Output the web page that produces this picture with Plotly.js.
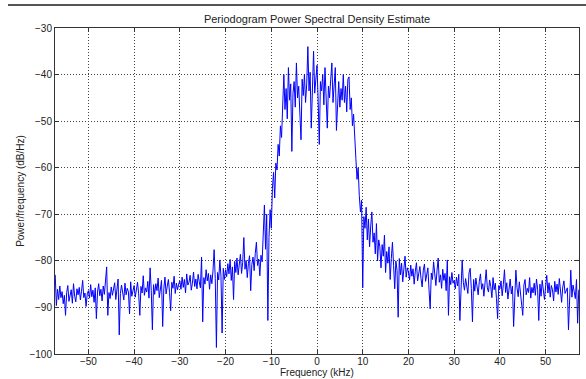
<!DOCTYPE html>
<html>
<head>
<meta charset="utf-8">
<script src="https://cdn.plot.ly/plotly-3.0.1.min.js"></script>
<style>
html,body{margin:0;padding:0;background:#fff;}
#chart{width:586px;height:379px;position:relative;}
</style>
</head>
<body>
<div id="chart"></div>
<script>
// Frequency bins (kHz): uniform periodogram grid
const freqStartKHz = -57.25;
const freqStepKHz = 0.25;

// PSD estimates (dB/Hz), left to right
const psdLeftTail = [ // -57.25 .. -20.25 kHz
  -83.0, -89.6, -86.1, -88.3, -85.4, -87.9, -86.6, -89.2, -87.4, -91.7,
  -86.8, -85.3, -88.7, -87.0, -86.2, -89.1, -84.9, -87.6, -88.8, -86.0,
  -87.3, -85.7, -88.4, -86.5, -84.2, -87.9, -86.9, -89.8, -87.1,
  -86.4, -88.0, -85.1, -87.7, -86.3, -88.9, -85.8, -92.4, -86.7, -84.9,
  -87.5, -86.1, -88.6, -85.4, -87.2, -84.3, -81.3, -91.7, -86.8, -88.1,
  -85.6, -87.4, -86.0, -84.7, -88.3, -86.5, -83.9, -95.9, -87.0, -85.2,
  -86.9, -88.4, -84.8, -87.3, -85.9, -86.6, -91.4, -84.5, -87.6, -86.0,
  -85.3, -87.8, -86.2, -84.6, -87.1, -91.7, -85.5, -86.9, -83.2, -87.4,
  -85.8, -86.7, -84.4, -88.0, -81.5, -86.3, -94.8, -85.1, -87.2, -84.9,
  -86.4, -83.7, -87.9, -85.6, -84.2, -94.1, -86.0, -83.5, -87.1, -85.4,
  -84.0, -86.8, -90.7, -84.6, -85.9, -83.3, -87.0, -84.8, -86.2, -85.0,
  -84.3, -86.1, -83.5, -85.7, -84.0, -86.9, -82.8, -85.2, -84.6, -83.1,
  -86.3, -84.8, -82.4, -85.5, -83.9, -86.0, -82.9, -84.5, -85.8, -79.2,
  -93.1, -83.6, -85.0, -81.9, -84.3, -82.7, -86.1, -83.0, -84.9, -82.2,
  -77.6, -83.8, -98.6, -82.5, -84.1, -79.8, -83.3, -95.5, -81.6, -84.0
];
const psdLeftShoulder = [ // -20.0 .. -11.0 kHz
  -81.9, -83.4, -80.6, -82.8, -79.7, -84.2, -81.3, -88.3, -80.1, -82.5,
  -79.4, -83.0, -81.2, -78.6, -82.7, -80.3, -75.0, -81.8, -79.9, -83.6,
  -80.5, -78.9, -86.4, -80.8, -79.2, -82.1, -78.4, -76.0, -81.0, -79.6,
  -83.2, -78.8, -80.2, -72.5, -68.0, -77.5, -70.0
];
const psdPassband = [ // -10.75 .. 9.75 kHz
  -92.8, -75.0, -69.0, -73.0, -64.5, -61.0, -66.5, -59.0, -60.5, -55.0,
  -57.5, -51.0, -53.5, -46.5, -40.0, -47.5, -43.0, -49.5, -38.5, -45.5,
  -42.0, -56.5, -44.0, -41.5, -47.0, -37.5, -45.0, -42.5, -48.0, -54.0,
  -41.0, -44.5, -40.0, -46.0, -42.0, -34.0, -43.5, -39.5, -51.5, -41.0,
  -35.0, -44.0, -40.5, -38.0, -45.5, -55.0, -41.5, -43.5, -40.0, -46.5,
  -38.5, -44.0, -51.5, -42.5, -45.0, -41.0, -37.5, -46.0, -43.0, -38.5,
  -52.0, -44.5, -41.5, -47.0, -43.0, -45.5, -40.0, -46.0, -42.5, -48.0,
  -41.0, -40.5, -47.5, -45.0, -51.0, -48.5, -55.5, -58.0, -62.5, -60.0,
  -66.0, -69.5, -67.0
];
const psdRightShoulder = [ // 10.0 .. 19.75 kHz
  -85.8, -70.5, -73.0, -68.5, -75.5, -71.0, -77.0, -72.5, -69.5, -76.0,
  -74.0, -78.5, -72.0, -80.0, -75.5, -77.0, -81.5, -76.5, -79.0, -74.5,
  -82.5, -78.0, -80.5, -77.0, -84.0, -79.5, -76.0, -81.0, -86.0, -80.0,
  -82.0, -92.1, -79.5, -83.0, -80.5, -84.5, -81.0, -79.0, -83.5, -81.5
];
const psdRightTail = [ // 20.0 .. 57.25 kHz
  -82.4, -84.1, -80.9, -83.3, -81.7, -85.0, -82.2, -80.4, -84.3, -82.9,
  -81.2, -83.8, -85.6, -82.0, -80.7, -84.4, -83.1, -81.5, -86.2, -90.3,
  -82.6, -84.0, -80.2, -83.5, -85.3, -82.1, -79.4, -84.6, -83.0, -85.9,
  -81.8, -84.2, -82.7, -86.4, -79.8, -91.7, -83.4, -85.1, -82.5, -84.8,
  -84.2, -86.0, -83.5, -85.4, -82.9, -92.8, -85.7, -79.8, -84.6, -86.3,
  -83.8, -85.1, -87.0, -82.6, -81.6, -85.9, -93.1, -84.0, -86.5, -83.7,
  -85.2, -87.3, -84.4, -82.8, -86.1, -84.9, -87.6, -83.4, -81.9, -85.8,
  -86.7, -84.1, -85.5, -87.9, -83.6, -86.2, -84.8, -88.1, -92.4, -85.3,
  -86.0, -84.3, -87.5, -85.1, -81.9, -86.8, -84.7, -88.2, -85.6, -83.9,
  -87.1, -85.4, -94.1, -86.3, -82.0, -85.8, -87.7, -84.5, -86.6, -88.4,
  -91.7, -85.2, -84.0, -87.3, -85.9, -86.8, -83.6, -88.0, -85.7, -86.9,
  -84.8, -87.4, -83.9, -86.1, -92.8, -85.0, -87.6, -84.2, -86.4, -88.3,
  -85.5, -83.1, -86.9, -84.7, -87.8, -85.3, -86.2, -88.6, -84.4, -86.7,
  -85.0, -87.2, -83.8, -86.5, -88.9, -85.6, -84.3, -87.0, -86.1, -85.8,
  -94.8, -86.4, -82.0, -87.8, -85.2, -86.6, -88.1, -84.0, -93.4, -86.2
];

const xTickVals = [-50, -40, -30, -20, -10, 0, 10, 20, 30, 40, 50];
const yTickVals = [-100, -90, -80, -70, -60, -50, -40, -30];

const psd = [].concat(psdLeftTail, psdLeftShoulder, psdPassband, psdRightShoulder, psdRightTail);
const freq = psd.map((_, i) => freqStartKHz + i * freqStepKHz);

const font = "'Liberation Sans', Arial, Helvetica, sans-serif";

const trace = {
  x: freq, y: psd, type: 'scatter', mode: 'lines',
  line: {color: '#0000ff', width: 1},
  hoverinfo: 'skip'
};

const axisCommon = {
  showline: true, linecolor: '#333', linewidth: 1, mirror: 'ticks',
  ticks: 'inside', ticklen: 4, tickcolor: '#333', tickwidth: 1,
  showgrid: true, gridcolor: '#444', griddash: '1px,2px', gridwidth: 1,
  zeroline: false, tickfont: {family: font, size: 10, color: '#222'}
};

const layout = {
  width: 586, height: 379,
  margin: {l: 55, r: 7, t: 28, b: 25, pad: 0},
  paper_bgcolor: '#fff', plot_bgcolor: '#fff',
  showlegend: false,
  title: {
    text: 'Periodogram Power Spectral Density Estimate',
    font: {family: font, size: 11, color: '#222'},
    x: 0.5, xref: 'paper', xanchor: 'center',
    y: 1 - 19 / 379, yref: 'container', yanchor: 'middle'
  },
  xaxis: Object.assign({}, axisCommon, {
    range: [-57.3, 57.3], tickmode: 'array', tickvals: xTickVals,
    ticklabelstandoff: -2
  }),
  yaxis: Object.assign({}, axisCommon, {
    range: [-100, -30], tickmode: 'array', tickvals: yTickVals,
    title: {text: 'Power/frequency (dB/Hz)', font: {family: font, size: 10, color: '#222'}, standoff: 2}
  }),
  annotations: [{
    text: 'Frequency (kHz)', showarrow: false,
    xref: 'paper', yref: 'paper', x: 0.5, y: (354 - 373) / 326,
    xanchor: 'center', yanchor: 'middle',
    font: {family: font, size: 10, color: '#222'}
  }],
  shapes: [{
    type: 'line', xref: 'paper', yref: 'paper', layer: 'above',
    x0: (8 - 55) / 524, x1: (586 - 55) / 524,
    y0: (354 - 5) / 326, y1: (354 - 5) / 326,
    line: {color: '#555555', width: 2}
  }]
};

Plotly.newPlot('chart', [trace], layout, {displayModeBar: false, staticPlot: true});
</script>
</body>
</html>
